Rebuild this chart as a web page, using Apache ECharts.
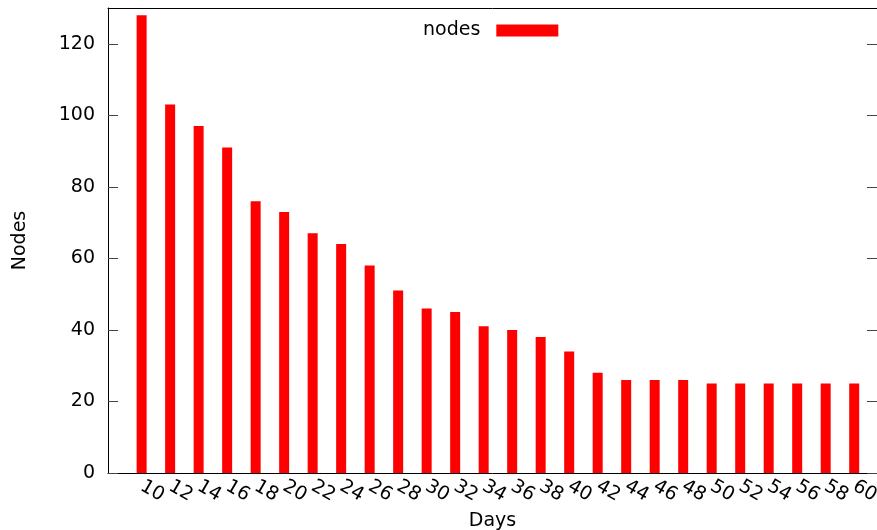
<!DOCTYPE html>
<html>
<head>
<meta charset="utf-8">
<script src="https://cdn.jsdelivr.net/npm/echarts@6/dist/echarts.min.js"></script>
<style>
  html, body { margin: 0; padding: 0; background: #fff; }
  #chart { width: 877px; height: 530px; }
</style>
</head>
<body>
<div id="chart"></div>
<script>
// Days on the x axis (one bar per day value)
const days = [10, 12, 14, 16, 18, 20, 22, 24, 26, 28, 30, 32, 34, 36, 38, 40, 42, 44, 46, 48, 50, 52, 54, 56, 58, 60];
// Node count for each day
const nodes = [128, 103, 97, 91, 76, 73, 67, 64, 58, 51, 46, 45, 41, 40, 38, 34, 28, 26, 26, 26, 25, 25, 25, 25, 25, 25];
// Y tick labels
const yTicks = [0, 20, 40, 60, 80, 100, 120];

const FONT = 'DejaVu Sans';
const chart = echarts.init(document.getElementById('chart'), null, { renderer: 'canvas' });

chart.setOption({
  animation: false,
  backgroundColor: '#fff',
  textStyle: { fontFamily: FONT },
  grid: { left: 108, right: 0, top: 8, bottom: 57, containLabel: false, outerBoundsMode: 'none' },
  legend: {
    data: ['nodes'],
    left: 418,
    top: 16,
    align: 'right',
    icon: 'rect',
    itemWidth: 62,
    itemHeight: 12,
    textStyle: { fontFamily: FONT, fontSize: 19, color: '#000', padding: [0, 11, 0, 0] }
  },
  xAxis: [{
    type: 'value',
    min: 7.64,
    max: 61.6,
    position: 'bottom',
    name: 'Days',
    nameLocation: 'middle',
    nameGap: 33,
    nameTextStyle: { fontFamily: FONT, fontSize: 19, color: '#000' },
    splitLine: { show: false },
    axisLine: { show: true, onZero: false, lineStyle: { color: '#000', width: 1 } },
    axisTick: { show: true, inside: true, length: 10, customValues: days, lineStyle: { color: '#555' } },
    axisLabel: { customValues: days, rotate: -30, margin: 12, fontFamily: FONT, fontSize: 19, color: '#000' }
  }, {
    type: 'value',
    min: 7.64,
    max: 61.6,
    position: 'top',
    splitLine: { show: false },
    axisLine: { show: true, onZero: false, lineStyle: { color: '#000', width: 1 } },
    axisTick: { show: false },
    axisLabel: { show: false }
  }],
  yAxis: [{
    type: 'value',
    min: 0,
    max: 130,
    position: 'left',
    name: 'Nodes',
    nameLocation: 'middle',
    nameGap: 78,
    nameRotate: 90,
    nameTextStyle: { fontFamily: FONT, fontSize: 19, color: '#000' },
    splitLine: { show: false },
    axisLine: { show: true, lineStyle: { color: '#000', width: 1 } },
    axisTick: { show: true, inside: true, length: 10, customValues: yTicks, lineStyle: { color: '#444' } },
    axisLabel: { customValues: yTicks, margin: 13, fontFamily: FONT, fontSize: 19, color: '#000' }
  }, {
    type: 'value',
    min: 0,
    max: 130,
    position: 'right',
    splitLine: { show: false },
    axisLine: { show: true, lineStyle: { color: '#000', width: 1 } },
    axisTick: { show: true, inside: true, length: 10, customValues: yTicks, lineStyle: { color: '#444' } },
    axisLabel: { show: false }
  }],
  series: [{
    name: 'nodes',
    type: 'bar',
    xAxisIndex: 0,
    yAxisIndex: 0,
    barWidth: 10,
    itemStyle: { color: '#ff0000' },
    data: days.map((d, i) => [d, nodes[i]])
  }]
});
</script>
</body>
</html>
